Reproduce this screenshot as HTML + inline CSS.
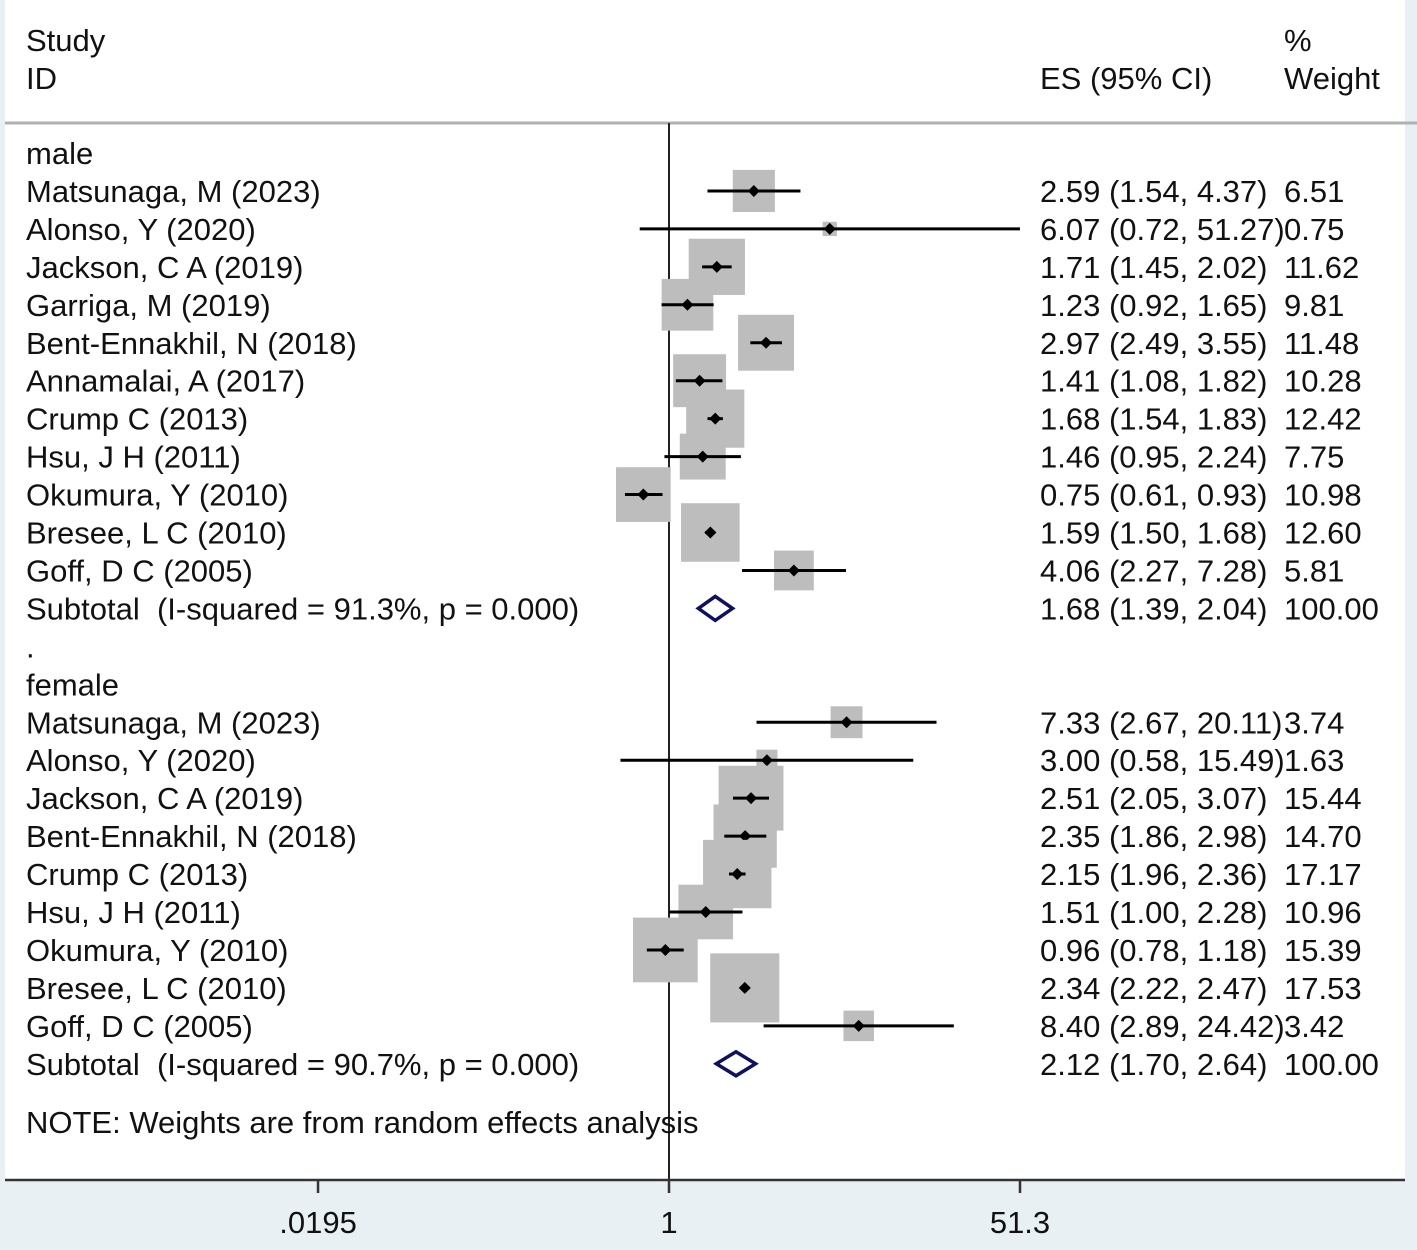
<!DOCTYPE html>
<html><head><meta charset="utf-8">
<style>
html,body{margin:0;padding:0;background:#e9f0f3;}
svg{display:block;font-family:"Liberation Sans",Arial,sans-serif;}
</style></head>
<body>
<svg id="chart" width="1417" height="1250" viewBox="0 0 1417 1250" xmlns="http://www.w3.org/2000/svg">
<rect x="5" y="0" width="1400" height="1180" fill="#ffffff"/>
<line x1="5" y1="123" x2="1417" y2="123" stroke="#b0b0b0" stroke-width="3"/>
<g font-size="31" fill="#111">
<text x="26" y="51">Study</text>
<text x="26" y="89">ID</text>
<text x="1040" y="89">ES (95% CI)</text>
<text x="1284" y="51">%</text>
<text x="1284" y="89">Weight</text>
</g>
<g id="marks"></g>
<g id="labels" font-size="31" fill="#111"></g>
</svg>
<script>
const studies = ["Matsunaga, M (2023)","Alonso, Y (2020)","Jackson, C A (2019)","Garriga, M (2019)","Bent-Ennakhil, N (2018)","Annamalai, A (2017)","Crump C (2013)","Hsu, J H (2011)","Okumura, Y (2010)","Bresee, L C (2010)","Goff, D C (2005)",
"Matsunaga, M (2023)","Alonso, Y (2020)","Jackson, C A (2019)","Bent-Ennakhil, N (2018)","Crump C (2013)","Hsu, J H (2011)","Okumura, Y (2010)","Bresee, L C (2010)","Goff, D C (2005)"];
const groups = ["male","male","male","male","male","male","male","male","male","male","male",
"female","female","female","female","female","female","female","female","female"];
const es = [2.59,6.07,1.71,1.23,2.97,1.41,1.68,1.46,0.75,1.59,4.06, 7.33,3.00,2.51,2.35,2.15,1.51,0.96,2.34,8.40];
const lo = [1.54,0.72,1.45,0.92,2.49,1.08,1.54,0.95,0.61,1.50,2.27, 2.67,0.58,2.05,1.86,1.96,1.00,0.78,2.22,2.89];
const hi = [4.37,51.27,2.02,1.65,3.55,1.82,1.83,2.24,0.93,1.68,7.28, 20.11,15.49,3.07,2.98,2.36,2.28,1.18,2.47,24.42];
const weights = [6.51,0.75,11.62,9.81,11.48,10.28,12.42,7.75,10.98,12.60,5.81, 3.74,1.63,15.44,14.70,17.17,10.96,15.39,17.53,3.42];
const groupNames = ["male","female"];
const subES = [1.68,2.12];
const subLo = [1.39,1.70];
const subHi = [2.04,2.64];
const subLabels = ["Subtotal\u00a0 (I-squared = 91.3%, p = 0.000)","Subtotal\u00a0 (I-squared = 90.7%, p = 0.000)"];
const tickValues = [0.0195,1,51.3];
const tickLabels = [".0195","1","51.3"];

const NS="http://www.w3.org/2000/svg";
const X0=669, PXL=351/Math.log(51.3), XMIN=5, XMAX=1405;
function xs(v){return X0+Math.log(v)*PXL;}
function clampX(x){return Math.max(XMIN,Math.min(1020,x));}
const marks=document.getElementById('marks'), labels=document.getElementById('labels');
function el(tag,attrs,parent){const e=document.createElementNS(NS,tag);for(const k in attrs)e.setAttribute(k,attrs[k]);parent.appendChild(e);return e;}
function txt(x,y,s,parent,anchor){const t=el('text',{x:x,y:y},parent);if(anchor)t.setAttribute('text-anchor',anchor);t.textContent=s;return t;}
const ROW=37.95, Y0=153;
let row=0;
function ry(r){return Y0+r*ROW;}
function fmt(v){return v.toFixed(2);}
const nl=el('line',{x1:X0,y1:123,x2:X0,y2:1180,stroke:'#222','stroke-width':2},marks);


groupNames.forEach((g,gi)=>{
  const h=txt(26,ry(row)+11,g,labels);
  
  
  row++;
  for(let i=0;i<studies.length;i++){
    if(groups[i]!==g)continue;
    const y=ry(row);
    const t=txt(26,y+11,studies[i],labels);
    
    
    const side=16.5*Math.sqrt(weights[i]);
    const bx=el('rect',{x:xs(es[i])-side/2,y:y-side/2,width:side,height:side,fill:'#bdbdbd'},marks);
    
    
    const ci=el('line',{x1:clampX(xs(lo[i])),y1:y,x2:clampX(xs(hi[i])),y2:y,stroke:'#000','stroke-width':3},marks);
    
    
    const pt=el('path',{d:`M${xs(es[i])-6},${y} L${xs(es[i])},${y-6} L${xs(es[i])+6},${y} L${xs(es[i])},${y+6} Z`,fill:'#000'},marks);
    
    
    const e=txt(1040,y+11,fmt(es[i])+" ("+fmt(lo[i])+", "+fmt(hi[i])+")",labels);
    
    
    const w=txt(1284,y+11,fmt(weights[i]),labels);
    
    
    row++;
  }
  const y=ry(row);
  const s=txt(26,y+11,subLabels[gi],labels);
  
  
  const cx=xs(subES[gi]), l=xs(subLo[gi]), r=xs(subHi[gi]);
  const d=el('path',{d:`M${l},${y} L${cx},${y-12} L${r},${y} L${cx},${y+12} Z`,fill:'none',stroke:'#101060','stroke-width':3.5},marks);
  
  
  const e=txt(1040,y+11,fmt(subES[gi])+" ("+fmt(subLo[gi])+", "+fmt(subHi[gi])+")",labels);
  
  
  const w=txt(1284,y+11,"100.00",labels);
  
  
  row++;
  if(gi===0){const dot=txt(26,ry(row)+11,".",labels);
    
    
    row++;}
});
const note=txt(26,1133,"NOTE: Weights are from random effects analysis",labels);


const ax=el('line',{x1:XMIN,y1:1180,x2:XMAX,y2:1180,stroke:'#333','stroke-width':2.5},marks);


tickValues.forEach((v,i)=>{
  const tk=el('line',{x1:xs(v),y1:1180,x2:xs(v),y2:1193,stroke:'#333','stroke-width':2.5},marks);
  
  
  const tl=txt(xs(v),1233,tickLabels[i],labels,'middle');
  
  
});
</script>
</body></html>
